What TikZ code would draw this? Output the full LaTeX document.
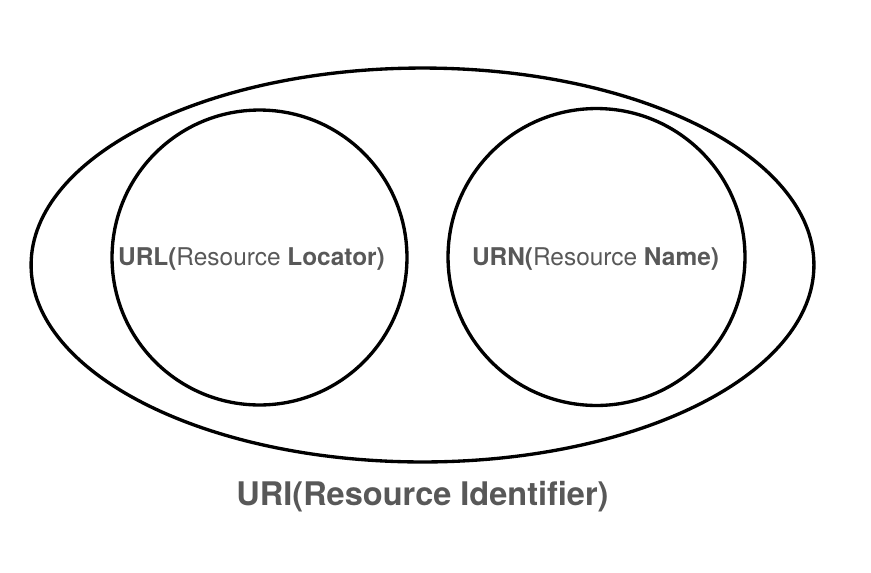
\documentclass[tikz,border=0pt]{standalone}
\usepackage{fontspec}
\setmainfont{TeX Gyre Heros}
\usetikzlibrary{shapes.geometric}

\definecolor{labelgray}{HTML}{585858}
\tikzset{
  set/.style={draw=black, line width=1.9pt, circle, inner sep=0pt},
  label text/.style={text=labelgray, font=\fontsize{13.9}{16}\selectfont},
}

\begin{document}
\begin{tikzpicture}[x=0.02cm, y=-0.02cm]
  \useasboundingbox (0,0) rectangle (871,572);
  % Outer set
  \node[draw=black, line width=1.9pt, ellipse, minimum width=15.66cm, minimum height=7.88cm, inner sep=0pt] (uri) at (422.5,265) {};
  % Inner sets
  \node[set, minimum size=5.9cm] (url) at (259.5,257.5) {};
  \node[set, minimum size=5.94cm] (urn) at (596.5,257) {};
  \node[label text] (urllabel) at ([xshift=-0.16cm,yshift=-0.04cm]url.center) {\textbf{URL(}Resource \textbf{Locator)}};
  \node[label text] (urnlabel) at ([xshift=-0.02cm,yshift=-0.04cm]urn.center) {\textbf{URN(}Resource \textbf{Name)}};
  % Caption
  \node[text=labelgray, font=\bfseries\fontsize{18.5}{22}\selectfont] (uriname) at (422.5,497) {URI(Resource Identifier)};
\end{tikzpicture}
\end{document}
